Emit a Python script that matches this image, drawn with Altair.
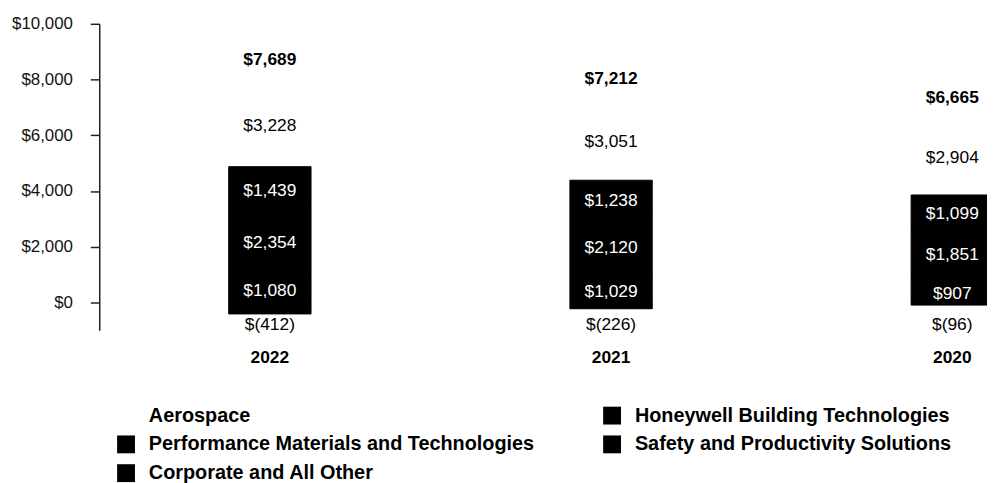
import altair as alt
import pandas as pd

years = ["2022", "2021", "2020"]
# legend order (laid out column by column: left column then right column)
segments = [
    "Aerospace",
    "Performance Materials and Technologies",
    "Corporate and All Other",
    "Honeywell Building Technologies",
    "Safety and Productivity Solutions",
]
aerospace = [3228, 3051, 2904]
building_tech = [1439, 1238, 1099]
perf_materials = [2354, 2120, 1851]
safety_prod = [1080, 1029, 907]
corporate = [-412, -226, -96]
totals = [7689, 7212, 6665]

series = {
    "Aerospace": aerospace,
    "Honeywell Building Technologies": building_tech,
    "Performance Materials and Technologies": perf_materials,
    "Safety and Productivity Solutions": safety_prod,
    "Corporate and All Other": corporate,
}
stack_rank = {
    "Corporate and All Other": 0,
    "Safety and Productivity Solutions": 1,
    "Performance Materials and Technologies": 2,
    "Honeywell Building Technologies": 3,
    "Aerospace": 4,
}
seg_colors = {
    "Aerospace": "#ffffff",
    "Honeywell Building Technologies": "#000000",
    "Performance Materials and Technologies": "#000000",
    "Safety and Productivity Solutions": "#000000",
    "Corporate and All Other": "#000000",
}


def money(v):
    return f"$({abs(v):,})" if v < 0 else f"${v:,}"


rows = []
for seg, vals in series.items():
    for yr, v in zip(years, vals):
        rows.append({"year": yr, "segment": seg, "value": v,
                     "rank": stack_rank[seg], "label": money(v)})
df = pd.DataFrame(rows)

tot_rows = []
for i, yr in enumerate(years):
    pos_top = aerospace[i] + building_tech[i] + perf_materials[i] + safety_prod[i]
    tot_rows.append({"year": yr, "top": pos_top, "label": money(totals[i])})
df_tot = pd.DataFrame(tot_rows)

FONT = "Liberation Sans"

x_enc = alt.X("year:N", sort=years,
              scale=alt.Scale(range=[0, 1032], paddingInner=0, paddingOuter=0),
              axis=alt.Axis(title=None, domain=False, ticks=False, labelAngle=0,
                            labelFont=FONT, labelFontSize=17.5, labelFontWeight="bold",
                            labelColor="#000", labelPadding=18))
y_scale = alt.Scale(domain=[-1000, 10000], nice=False, zero=False)
color_scale = alt.Scale(domain=segments, range=[seg_colors[s] for s in segments])

base = alt.Chart(df).transform_stack(
    stack="value", groupby=["year"], as_=["y0", "y1"],
    sort=[alt.SortField("rank", order="ascending")]
).transform_calculate(
    mid="(datum.y0 + datum.y1) / 2"
)

bars = base.mark_bar(size=83, strokeWidth=1).encode(
    x=x_enc,
    y=alt.Y("y0:Q", scale=y_scale,
            axis=alt.Axis(title=None, values=[0, 2000, 4000, 6000, 8000, 10000],
                          format="$,.0f", grid=False, labelFont=FONT, labelFontSize=17,
                          labelColor="#111", tickSize=9, tickColor="#222", tickWidth=1.5,
                          domainColor="#222", domainWidth=1.5, labelPadding=18)),
    y2="y1:Q",
    color=alt.Color("segment:N", scale=color_scale,
                    legend=alt.Legend(title=None, orient="none", legendX=17, legendY=385,
                                      columns=2, columnPadding=68, rowPadding=9,
                                      symbolType="square", symbolSize=324,
                                      symbolStrokeWidth=0, symbolOpacity=1,
                                      labelFont=FONT, labelFontSize=20, labelFontWeight="bold",
                                      labelColor="#000", labelOffset=13, labelLimit=600)),
    stroke=alt.Stroke("segment:N", scale=color_scale, legend=None),
)

inner_labels = base.transform_filter(
    "datum.segment != 'Corporate and All Other'"
).mark_text(font=FONT, fontSize=17.5, baseline="middle", dy=4).encode(
    x=alt.X("year:N", sort=years),
    y=alt.Y("mid:Q"),
    text="label:N",
    color=alt.condition("datum.segment == 'Aerospace'", alt.value("#000000"), alt.value("#ffffff")),
)

# corporate labels sit in a row just under the zero line
corp_labels = base.transform_filter(
    "datum.segment == 'Corporate and All Other'"
).mark_text(font=FONT, fontSize=17.5, baseline="top", dy=14, color="#000").encode(
    x=alt.X("year:N", sort=years),
    y=alt.datum(0),
    text="label:N",
)

total_labels = alt.Chart(df_tot).mark_text(
    font=FONT, fontSize=17.5, fontWeight="bold", baseline="middle", dy=-16.5, color="#000"
).encode(
    x=alt.X("year:N", sort=years),
    y=alt.Y("top:Q"),
    text="label:N",
)

chart = alt.layer(bars, inner_labels, corp_labels, total_labels).properties(
    width=895, height=309,
    autosize=alt.AutoSizeParams(type="none"),
    padding={"left": 92, "top": 14, "right": 0, "bottom": 152},
).configure_view(stroke=None)

chart.save("out.html", embed_options={"renderer": "svg", "actions": False})
